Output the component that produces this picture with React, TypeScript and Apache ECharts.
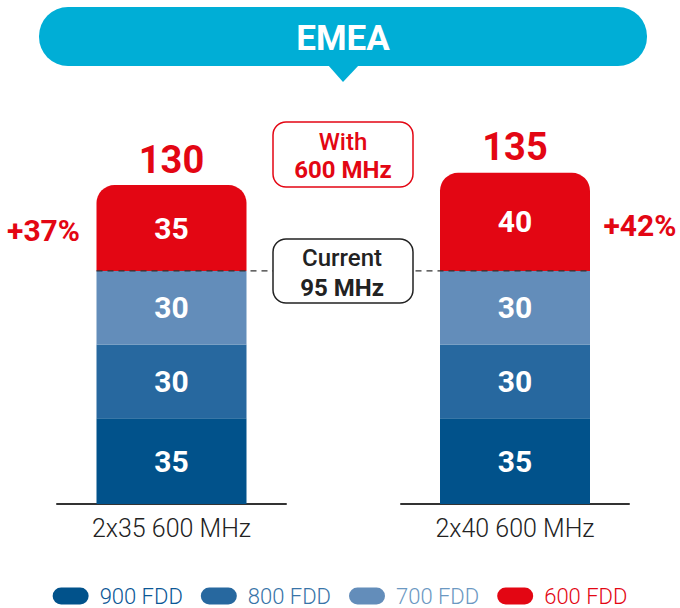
import React, { useEffect, useRef } from "react";
import * as echarts from "echarts";

const categories = ["2x35 600 MHz", "2x40 600 MHz"];
const fdd900 = [35, 35];
const fdd800 = [30, 30];
const fdd700 = [30, 30];
const fdd600 = [35, 40];
const totals = [130, 135];
const growth = ["+37%", "+42%"];
const seriesNames = ["900 FDD", "800 FDD", "700 FDD", "600 FDD"];

const RED = "#E30613";
const CYAN = "#00AED6";
const FONT = "Roboto";

const layers = [
  { name: seriesNames[0], data: fdd900, color: "#01528B", text: "#0B5796" },
  { name: seriesNames[1], data: fdd800, color: "#27689F", text: "#3874A8" },
  { name: seriesNames[2], data: fdd700, color: "#638DBA", text: "#6B98C2" },
  { name: seriesNames[3], data: fdd600, color: RED, text: RED },
];

const PILL = "path://M8.5,0 L27.5,0 A8.5,8.5 0 0 1 27.5,17 L8.5,17 A8.5,8.5 0 0 1 8.5,0 Z";

export default function App() {
  const ref = useRef<HTMLDivElement>(null);
  useEffect(() => {
    if (!ref.current) return;
    const chart = echarts.init(ref.current, undefined, { renderer: "svg" });
    const current = categories.map((_, i) => fdd900[i] + fdd800[i] + fdd700[i]);
    const series: any[] = [];
    categories.forEach((_, i) => {
      layers.forEach((l, k) => {
        series.push({
          type: "bar",
          name: l.name,
          xAxisIndex: i,
          yAxisIndex: i,
          stack: "s" + i,
          barWidth: 150,
          data: [l.data[i]],
          itemStyle: { color: l.color, borderRadius: k === layers.length - 1 ? [18, 18, 0, 0] : 0 },
          label: { show: true, position: "inside", color: "#fff", fontSize: 30, fontWeight: "bold", fontFamily: FONT },
          silent: true,
        });
      });
      series.push({
        type: "scatter",
        name: "total" + i,
        xAxisIndex: i,
        yAxisIndex: i,
        data: [totals[i]],
        symbolSize: 1,
        itemStyle: { color: "rgba(0,0,0,0)", opacity: 1 },
        label: { show: true, position: "top", distance: 6, formatter: String(totals[i]), color: RED, fontSize: 38, fontWeight: "bold", fontFamily: FONT },
        silent: true,
      });
      series.push({
        type: "scatter",
        name: "growth" + i,
        xAxisIndex: i,
        yAxisIndex: i,
        data: [current[i] + fdd600[i] / 2],
        symbolSize: 1,
        itemStyle: { color: "rgba(0,0,0,0)", opacity: 1 },
        label: {
          show: true,
          position: i === 0 ? "left" : "right",
          distance: i === 0 ? 91 : 88,
          offset: [0, i === 0 ? 2 : 4],
          formatter: growth[i],
          color: RED,
          fontSize: 30,
          fontWeight: "bold",
          fontFamily: FONT,
        },
        silent: true,
      });
    });

    chart.setOption({
      animation: false,
      backgroundColor: "#fff",
      textStyle: { fontFamily: FONT },
      grid: [
        { left: 57, top: 136, width: 229, height: 368 },
        { left: 401, top: 136, width: 228, height: 368 },
      ],
      xAxis: categories.map((c, i) => ({
        type: "category",
        gridIndex: i,
        data: [c],
        axisLine: { lineStyle: { color: "#333", width: 2 } },
        axisTick: { show: false },
        axisLabel: { fontSize: 25, color: "#222", margin: 12, fontWeight: 300, fontFamily: FONT },
      })),
      yAxis: categories.map((_, i) => ({ type: "value", gridIndex: i, min: 0, max: 150, show: false })),
      legend: {
        top: 580,
        left: "center",
        itemWidth: 36,
        itemHeight: 17,
        itemGap: 18,
        icon: PILL,
        selectedMode: false,
        data: layers.map((l) => ({ name: l.name, itemStyle: { color: l.color }, textStyle: { color: l.text } })),
        textStyle: { fontSize: 22, fontWeight: 300, fontFamily: FONT, padding: [0, 0, 0, 6] },
      },
      series,
    });

    const y95 = chart.convertToPixel({ yAxisIndex: 0 }, current[0]) as number;
    const xL = (chart.convertToPixel({ xAxisIndex: 0 }, 0) as number) - 75;
    const xR = (chart.convertToPixel({ xAxisIndex: 1 }, 0) as number) + 75;

    chart.setOption({
      graphic: [
        { type: "rect", shape: { x: 39, y: 7, width: 608, height: 59, r: 29 }, style: { fill: CYAN } },
        { type: "polygon", shape: { points: [[328, 65], [359, 65], [343, 82]] }, style: { fill: CYAN } },
        {
          type: "text", x: 343, y: 38,
          style: { text: "EMEA", fill: "#fff", fontSize: 35, fontWeight: "bold", fontFamily: FONT, align: "center", verticalAlign: "middle" },
        },
        { type: "line", z: 100, shape: { x1: xL, y1: y95, x2: xR, y2: y95 }, style: { stroke: "#333", lineWidth: 1.2, lineDash: [6, 5] } },
        { type: "rect", z: 110, shape: { x: 273, y: 122, width: 140, height: 65, r: 13 }, style: { fill: "#fff", stroke: RED, lineWidth: 1.5 } },
        {
          type: "text", z: 111, x: 343, y: 142,
          style: { text: "With", fill: RED, fontSize: 24, fontWeight: 500, fontFamily: FONT, align: "center", verticalAlign: "middle" },
        },
        {
          type: "text", z: 111, x: 343, y: 170,
          style: { text: "600 MHz", fill: RED, fontSize: 24, fontWeight: "bold", fontFamily: FONT, align: "center", verticalAlign: "middle" },
        },
        { type: "rect", z: 110, shape: { x: 273, y: 239, width: 140, height: 64, r: 13 }, style: { fill: "#fff", stroke: "#222", lineWidth: 1.5 } },
        {
          type: "text", z: 111, x: 342, y: 258,
          style: { text: "Current", fill: "#222", fontSize: 24, fontWeight: 500, fontFamily: FONT, align: "center", verticalAlign: "middle" },
        },
        {
          type: "text", z: 111, x: 342, y: 288,
          style: { text: "95 MHz", fill: "#222", fontSize: 24, fontWeight: "bold", fontFamily: FONT, align: "center", verticalAlign: "middle" },
        },
      ],
    });

    return () => chart.dispose();
  }, []);
  return <div ref={ref} style={{ position: "fixed", left: 0, top: 0, width: 680, height: 608 }} />;
}
